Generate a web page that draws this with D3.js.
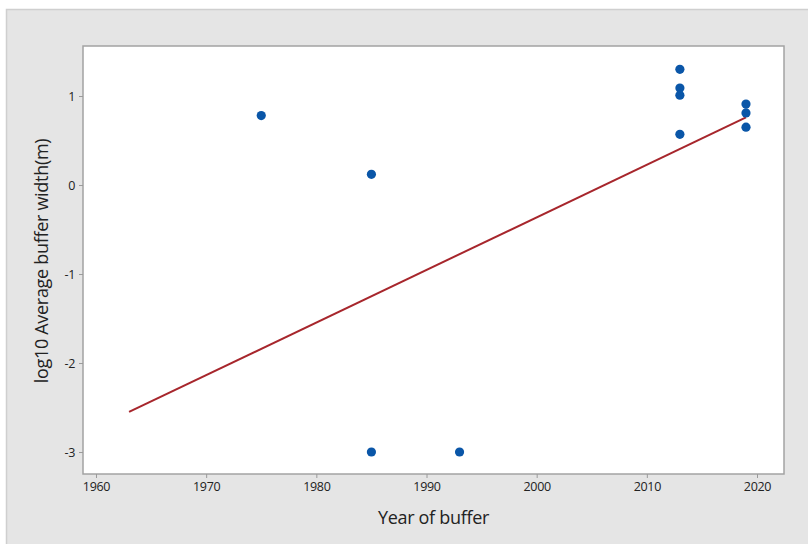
<!DOCTYPE html>
<html>
<head>
<meta charset="utf-8">
<script src="https://cdn.jsdelivr.net/npm/d3@7"></script>
<style>
  html, body { margin: 0; padding: 0; background: #ffffff; }
  svg { display: block; }
  text { font-family: "Open Sans", "Noto Sans", sans-serif; fill: #222; }
</style>
</head>
<body>
<script>
// Observations: year of buffer and log10 of average buffer width (m)
const years = [1975, 1985, 1985, 1993, 2013, 2013, 2013, 2013, 2019, 2019, 2019];
const logWidths = [0.78, 0.12, -3.0, -3.0, 1.30, 1.09, 1.01, 0.57, 0.91, 0.81, 0.65];

// Fitted regression line endpoints
const fitYears = [1963, 2019];
const fitValues = [-2.55, 0.76];

// Axis ticks
const xTicks = [1960, 1970, 1980, 1990, 2000, 2010, 2020];
const yTicks = [-3, -2, -1, 0, 1];

const W = 808, H = 544;
const plot = { left: 83, top: 46, right: 784, bottom: 474 };

const svg = d3.select("body").append("svg")
  .attr("width", W).attr("height", H);

// Outer panel
svg.append("rect")
  .attr("x", 6.5).attr("y", 9.5)
  .attr("width", W).attr("height", H)
  .attr("fill", "#e5e5e5")
  .attr("stroke", "#cfcfcf").attr("stroke-width", 1.5);

const x = d3.scaleLinear().domain([1958.82, 2022.45]).range([plot.left, plot.right]);
const y = d3.scaleLinear().domain([-3.247, 1.562]).range([plot.bottom, plot.top]);

// Data region
svg.append("rect")
  .attr("x", plot.left).attr("y", plot.top)
  .attr("width", plot.right - plot.left).attr("height", plot.bottom - plot.top)
  .attr("fill", "#ffffff")
  .attr("stroke", "#a3a3a3").attr("stroke-width", 1.5);

// Axes (plain hyphen for negative labels)
const intFmt = d => String(d);
const xAxis = svg.append("g")
  .attr("transform", `translate(0,${plot.bottom})`)
  .call(d3.axisBottom(x).tickValues(xTicks).tickFormat(intFmt).tickSize(4).tickPadding(4));
const yAxis = svg.append("g")
  .attr("transform", `translate(${plot.left},0)`)
  .call(d3.axisLeft(y).tickValues(yTicks).tickFormat(intFmt).tickSize(4).tickPadding(4));

[xAxis, yAxis].forEach(g => {
  g.select(".domain").remove();
  g.selectAll(".tick line").attr("stroke", "#9a9a9a");
  g.selectAll(".tick text")
    .attr("font-size", 12.5)
    .attr("fill", "#2a2a2a")
    .style("letter-spacing", "-0.3px");
});

// Fit line
const fitData = fitYears.map((yr, i) => [yr, fitValues[i]]);
svg.append("path")
  .datum(fitData)
  .attr("fill", "none")
  .attr("stroke", "#a7262c")
  .attr("stroke-width", 2)
  .attr("d", d3.line().x(d => x(d[0])).y(d => y(d[1])));

// Points
svg.append("g")
  .selectAll("circle")
  .data(years.map((yr, i) => [yr, logWidths[i]]))
  .join("circle")
  .attr("cx", d => x(d[0]))
  .attr("cy", d => y(d[1]))
  .attr("r", 4.6)
  .attr("fill", "#0a56a8");

// Axis titles
svg.append("text")
  .attr("x", (plot.left + plot.right) / 2)
  .attr("y", 524)
  .attr("text-anchor", "middle")
  .attr("font-size", 18)
  .attr("fill", "#151515")
  .style("letter-spacing", "-0.3px")
  .text("Year of buffer");

svg.append("text")
  .attr("transform", `translate(48,261) rotate(-90)`)
  .attr("text-anchor", "middle")
  .attr("font-size", 18)
  .attr("fill", "#151515")
  .style("letter-spacing", "-0.3px")
  .text("log10 Average buffer width(m)");
</script>
</body>
</html>
